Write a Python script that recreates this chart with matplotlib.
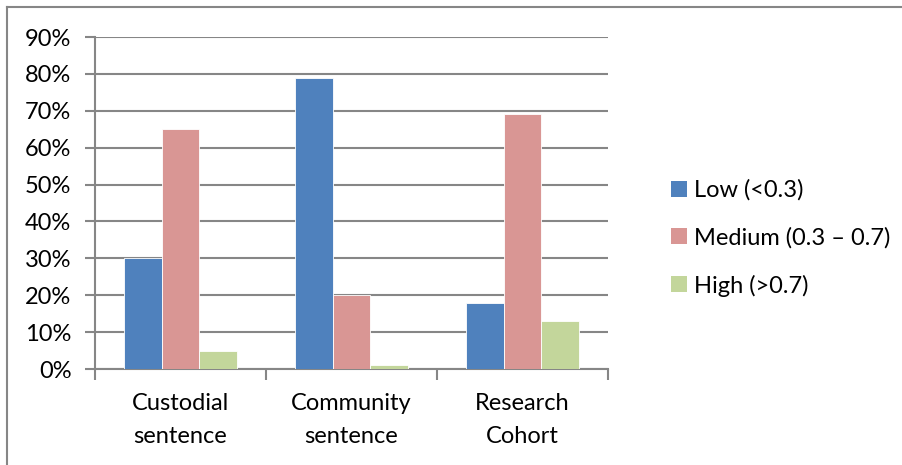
import numpy as np
import matplotlib.pyplot as plt
from matplotlib.lines import Line2D
from matplotlib.patches import Patch
from matplotlib.ticker import FixedLocator, PercentFormatter

# -----------------
# Data
# -----------------
categories = ['Custodial\nsentence', 'Community\nsentence', 'Research\nCohort']
series_names = ['Low (<0.3)', 'Medium (0.3 \u2013 0.7)', 'High (>0.7)']
low_vals = [30, 79, 18]
medium_vals = [65, 20, 69]
high_vals = [5, 1, 13]

colors = ['#4F81BD', '#D99694', '#C3D69B']
grid_color = '#868686'
fs = 17

plt.rcParams['font.family'] = ['Lato', 'DejaVu Sans']

fig = plt.figure(figsize=(9.03, 4.65), dpi=100)
ax = fig.add_axes([95 / 903, 1 - 369 / 465, (608 - 95) / 903, (369 - 37) / 465])

x = np.arange(len(categories))
width = 0.22
for i, vals in enumerate([low_vals, medium_vals, high_vals]):
    ax.bar(x + (i - 1) * width, vals, width, color=colors[i],
           edgecolor='white', linewidth=0.6, zorder=3)

# Axes styling
ax.set_xlim(-0.5, 2.5)
ax.set_ylim(0, 90)
ax.set_yticks(np.arange(0, 91, 10))
ax.yaxis.set_major_formatter(PercentFormatter(decimals=0))
ax.yaxis.grid(True, color=grid_color, linewidth=1.5, zorder=0)
ax.set_axisbelow(True)

ax.set_xticks(x)
ax.set_xticklabels(categories, fontsize=fs, linespacing=1.75)
ax.tick_params(axis='x', which='major', length=0, pad=17)
ax.xaxis.set_minor_locator(FixedLocator([-0.5, 0.5, 1.5, 2.5]))
ax.tick_params(axis='x', which='minor', length=8, width=1.5, color=grid_color)
ax.tick_params(axis='y', length=7, width=1.5, color=grid_color, labelsize=fs, pad=10)

for side in ['top', 'right']:
    ax.spines[side].set_visible(False)
for side in ['left', 'bottom']:
    ax.spines[side].set_color(grid_color)
    ax.spines[side].set_linewidth(1.5)

# Legend
handles = [Patch(facecolor=c, edgecolor='none') for c in colors]
fig.legend(handles, series_names, loc='center left',
           bbox_to_anchor=(650 / 903, 1 - 238 / 465), frameon=False,
           fontsize=fs, handlelength=0.65, handleheight=0.65,
           handletextpad=0.3, labelspacing=1.1)

# Outer chart border (top and left visible)
fig.add_artist(Line2D([7 / 903, 7 / 903], [0, 1 - 7.5 / 465],
                      transform=fig.transFigure, color=grid_color, linewidth=1.5))
fig.add_artist(Line2D([7 / 903, 1], [1 - 7.5 / 465, 1 - 7.5 / 465],
                      transform=fig.transFigure, color=grid_color, linewidth=1.5))

fig.savefig('out.png', dpi=100)
